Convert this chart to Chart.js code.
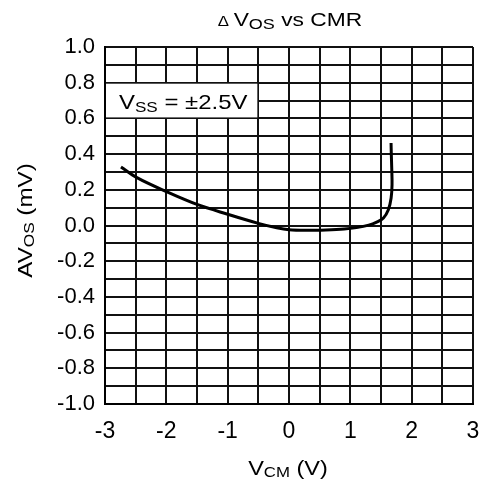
<!DOCTYPE html>
<html><head><meta charset="utf-8">
<script src="https://cdn.jsdelivr.net/npm/chart.js@4.4.0/dist/chart.umd.min.js"></script>
<style>html,body{margin:0;padding:0;background:#fff;}#wrap{width:481px;height:484px;}</style>
</head><body><div id="wrap"><canvas id="c" width="481" height="484"></canvas></div>
<script>
// ---- data ----
const vcm  = [-2.74, -2.48, -2.0, -1.5, -1.0, -0.5, -0.2, 0.0, 0.3, 0.6, 0.9, 1.1, 1.3, 1.43, 1.54, 1.62, 1.665, 1.68, 1.675, 1.668, 1.664];
const dvos = [0.328, 0.268, 0.190, 0.118, 0.063, 0.012, -0.013, -0.024, -0.027, -0.025, -0.020, -0.012, 0.002, 0.019, 0.042, 0.088, 0.154, 0.229, 0.322, 0.400, 0.462];
const xTickLabels = ['-3', '-2', '-1', '0', '1', '2', '3'];
const yTickLabels = ['1.0', '0.8', '0.6', '0.4', '0.2', '0.0', '-0.2', '-0.4', '-0.6', '-0.8', '-1.0'];
const titleParts = [{t: '\u0394 ', s: 14}, {t: 'V', s: 19}, {t: 'OS', s: 15, sub: 3}, {t: ' vs CMR', s: 19}];
const xTitleParts = [{t: 'V', s: 21}, {t: 'CM', s: 15, sub: 2}, {t: ' (V)', s: 21}];
const yTitleParts = [{t: 'AV', s: 21}, {t: 'OS', s: 15, sub: 2}, {t: ' (mV)', s: 21}];
const noteParts = [{t: 'V', s: 21}, {t: 'SS', s: 15, sub: 3}, {t: ' = \u00B12.5V', s: 21}];

const FONT = '"Liberation Sans", Arial, Helvetica, sans-serif';

function richWidth(ctx, parts) {
  let w = 0;
  for (const p of parts) { ctx.font = p.s + 'px ' + FONT; w += ctx.measureText(p.t).width; }
  return w;
}
function drawRich(ctx, parts, x, y, stretch, center) {
  const w = richWidth(ctx, parts) * stretch;
  const x0 = center ? x - w / 2 : x;
  ctx.save();
  ctx.translate(x0, y);
  ctx.scale(stretch, 1);
  ctx.fillStyle = '#000';
  ctx.textBaseline = 'alphabetic';
  ctx.textAlign = 'left';
  let cx = 0;
  for (const p of parts) {
    ctx.font = p.s + 'px ' + FONT;
    ctx.fillText(p.t, cx, p.sub || 0);
    cx += ctx.measureText(p.t).width;
  }
  ctx.restore();
}

const textPlugin = {
  id: 'textPlugin',
  beforeDatasetsDraw(chart) {
    const ctx = chart.ctx, xs = chart.scales.x, ys = chart.scales.y;
    const l = xs.getPixelForValue(-3) + 1, r = xs.getPixelForValue(-0.5) - 1;
    const t = ys.getPixelForValue(0.8) + 1, b = ys.getPixelForValue(0.6) - 1;
    ctx.save();
    ctx.fillStyle = '#fff';
    ctx.fillRect(l, t, r - l, b - t);
    ctx.restore();
    drawRich(ctx, noteParts, l + 13, ys.getPixelForValue(0.7) + 8, 1.14, false);
  },
  afterDraw(chart) {
    const ctx = chart.ctx, a = chart.chartArea;
    const cx = (a.left + a.right) / 2;
    drawRich(ctx, titleParts, cx + 1, 26, 1.2, true);
    drawRich(ctx, xTitleParts, cx - 1, 475, 1.12, true);
    ctx.save();
    ctx.translate(32, (a.top + a.bottom) / 2 - 5);
    ctx.rotate(-Math.PI / 2);
    drawRich(ctx, yTitleParts, 0, 0, 1.15, true);
    ctx.restore();
  }
};

const pts = vcm.map((v, i) => ({x: v, y: dvos[i]}));

new Chart(document.getElementById('c'), {
  type: 'scatter',
  data: { datasets: [{
    data: pts, showLine: true, borderColor: '#000', borderWidth: 3,
    pointRadius: 0, tension: 0.35, fill: false
  }]},
  options: {
    responsive: false, animation: false, devicePixelRatio: 1,
    layout: { padding: { top: 47, right: 8, left: 0, bottom: 0 } },
    plugins: { legend: { display: false }, tooltip: { enabled: false }, title: { display: false } },
    scales: {
      x: {
        type: 'linear', min: -3, max: 3,
        afterFit(s) { s.height = 80; s.paddingLeft = 0; s.paddingRight = 0; },
        grid: { color: '#111', lineWidth: 2, drawTicks: false },
        border: { color: '#000', width: 2 },
        ticks: {
          stepSize: 0.5, autoSkip: false, maxTicksLimit: 30, maxRotation: 0, padding: 14,
          color: '#000', font: { family: FONT, size: 23 },
          callback(v) { const s = String(Math.round(v * 10) / 10); return xTickLabels.includes(s) ? s : ''; }
        }
      },
      y: {
        type: 'linear', min: -1, max: 1,
        afterFit(s) { s.width = 105; s.paddingTop = 0; s.paddingBottom = 0; },
        grid: { color: '#111', lineWidth: 2, drawTicks: false },
        border: { color: '#000', width: 2 },
        ticks: {
          stepSize: 0.1, autoSkip: false, maxTicksLimit: 30, padding: 10,
          color: '#000', font: { family: FONT, size: 22 },
          callback(v) { const s = (Math.round(v * 10) / 10).toFixed(1); return yTickLabels.includes(s) ? s : ''; }
        }
      }
    }
  },
  plugins: [textPlugin]
});
</script></body></html>
